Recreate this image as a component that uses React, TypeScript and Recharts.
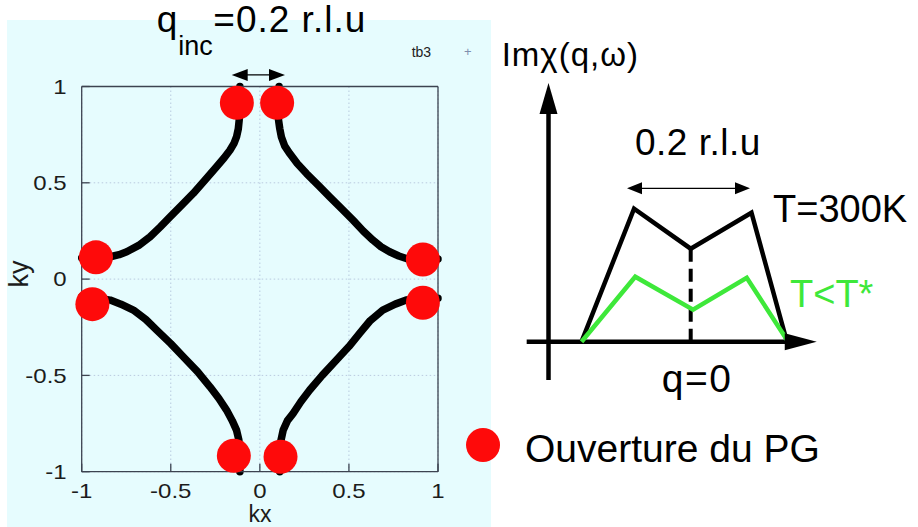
import React from 'react';
import {
  ComposedChart,
  Line,
  Scatter,
  XAxis,
  YAxis,
  CartesianGrid,
  ReferenceLine,
  ReferenceDot,
} from 'recharts';

const FONT = "'Liberation Sans', Arial, Helvetica, sans-serif";

// ---------- left panel: Fermi-surface map (kx, ky) ----------
const kTicks = [-1, -0.5, 0, 0.5, 1];

const arcTopLeft = [
  [-1.0, 0.11], [-0.9, 0.112], [-0.84, 0.116], [-0.79, 0.127], [-0.747, 0.142],
  [-0.68, 0.175], [-0.616, 0.22], [-0.56, 0.27], [-0.504, 0.323], [-0.44, 0.383],
  [-0.374, 0.445], [-0.31, 0.512], [-0.243, 0.583], [-0.2, 0.63], [-0.168, 0.669],
  [-0.145, 0.705], [-0.131, 0.738], [-0.121, 0.78], [-0.116, 0.825], [-0.113, 0.9],
  [-0.112, 1.0],
];
const arcTopRight = [
  [0.108, 1.0], [0.104, 0.9], [0.105, 0.825], [0.112, 0.78], [0.121, 0.738],
  [0.14, 0.69], [0.168, 0.652], [0.21, 0.6], [0.262, 0.548], [0.33, 0.485],
  [0.392, 0.427], [0.46, 0.365], [0.523, 0.306], [0.58, 0.25], [0.635, 0.202],
  [0.68, 0.168], [0.728, 0.142], [0.78, 0.12], [0.822, 0.107], [0.9, 0.104],
  [1.0, 0.104],
];
const arcBottomLeft = [
  [-1.0, -0.092], [-0.9, -0.1], [-0.84, -0.109], [-0.78, -0.13], [-0.71, -0.161],
  [-0.64, -0.21], [-0.579, -0.265], [-0.5, -0.335], [-0.43, -0.403], [-0.35, -0.48],
  [-0.28, -0.559], [-0.23, -0.62], [-0.187, -0.68], [-0.155, -0.735], [-0.131, -0.784],
  [-0.118, -0.835], [-0.113, -0.9], [-0.112, -1.0],
];
const arcBottomRight = [
  [0.112, -1.0], [0.112, -0.9], [0.115, -0.853], [0.131, -0.784], [0.155, -0.735],
  [0.187, -0.697], [0.23, -0.637], [0.28, -0.576], [0.35, -0.5], [0.43, -0.42],
  [0.5, -0.35], [0.56, -0.282], [0.62, -0.215], [0.69, -0.161], [0.76, -0.13],
  [0.822, -0.109], [0.9, -0.1], [1.0, -0.1],
];
const gapPoints = [
  [-0.129, 0.915], [0.097, 0.915], [-0.92, 0.113], [-0.94, -0.13],
  [0.915, 0.102], [0.915, -0.123], [-0.146, -0.917], [0.116, -0.922],
];
// q_inc arrow above the map
const qIncArrowKy = 1.06;
const qIncArrowFrom = -0.158;
const qIncArrowTo = 0.141;

// ---------- right panel: Im chi(q, w) sketch ----------
const qHot = [-0.185, -0.096, 0, 0.103, 0.163];
const chiHot = [0, 1.33, 0.93, 1.29, 0];
const qCold = [-0.185, -0.094, 0.004, 0.095, 0.163];
const chiCold = [0, 0.65, 0.32, 0.64, 0.02];
const widthArrowY = 1.534;
const widthArrowFrom = -0.108;
const widthArrowTo = 0.1005;
const axisQ = -0.241;
const legendDot = { q: -0.352, v: -1.033 };

const pts = (arr: number[][]) => arr.map(([kx, ky]) => ({ kx, ky }));
const hotData = qHot.map((q, i) => ({ q, v: chiHot[i] }));
const coldData = qCold.map((q, i) => ({ q, v: chiCold[i] }));

const RED = '#fe0a0a';
const GREEN = '#3ee83a';
const AX = '#3c4350';

const arrowHead =
  (dir: 'up' | 'right' | 'left', len: number, half: number) => (p: any) => {
    const { cx, cy } = p;
    let s = '';
    if (dir === 'up') s = `${cx},${cy} ${cx - half},${cy + len} ${cx + half},${cy + len}`;
    if (dir === 'right') s = `${cx},${cy} ${cx - len},${cy - half} ${cx - len},${cy + half}`;
    if (dir === 'left') s = `${cx},${cy} ${cx + len},${cy - half} ${cx + len},${cy + half}`;
    return <polygon points={s} fill="#000" />;
  };

const XTick = (p: any) => (
  <g transform={`translate(${p.x},${p.y})`}>
    <text
      transform="scale(1.2,1)"
      textAnchor="middle"
      dy="0.71em"
      fontSize={20}
      fill="#1c1c1c"
      fontFamily={FONT}
    >
      {String(p.payload.value)}
    </text>
  </g>
);
const YTick = (p: any) => (
  <g transform={`translate(${p.x},${p.y})`}>
    <text
      transform="scale(1.2,1)"
      textAnchor="end"
      dy="0.36em"
      fontSize={20}
      fill="#1c1c1c"
      fontFamily={FONT}
    >
      {String(p.payload.value)}
    </text>
  </g>
);

const dotShape = (p: any) => <circle cx={p.cx} cy={p.cy} r={17} fill={RED} />;

export default function App() {
  return (
    <div style={{ position: 'absolute', left: 0, top: 0, width: 918, height: 527, background: '#fff', overflow: 'hidden' }}>
      {/* left panel */}
      <div style={{ position: 'absolute', left: 7, top: 20, width: 484, height: 507, background: '#e6fcfe' }}>
        <ComposedChart width={484} height={507} margin={{ top: 65.5, right: 52, bottom: 54.3, left: 73.7 }}>
          <CartesianGrid stroke="#b9cadf" strokeDasharray="1.5 2.5" strokeWidth={1} />
          <XAxis
            xAxisId={0}
            type="number"
            dataKey="kx"
            domain={[-1, 1]}
            ticks={kTicks}
            height={1}
            tickSize={-8}
            tickMargin={20}
            tick={<XTick />}
            stroke={AX}
            strokeWidth={1.3}
          />
          <XAxis
            xAxisId="top"
            orientation="top"
            type="number"
            domain={[-1, 1]}
            ticks={kTicks}
            height={1}
            tickSize={-8}
            tick={false}
            stroke={AX}
            strokeWidth={1.3}
          />
          <YAxis
            yAxisId={0}
            type="number"
            dataKey="ky"
            domain={[-1, 1]}
            ticks={kTicks}
            width={1}
            tickSize={-8}
            tickMargin={23}
            tick={<YTick />}
            stroke={AX}
            strokeWidth={1.3}
          />
          <YAxis
            yAxisId="right"
            orientation="right"
            type="number"
            domain={[-1, 1]}
            ticks={kTicks}
            width={1}
            tickSize={-8}
            tick={false}
            stroke={AX}
            strokeWidth={1.3}
          />
          {[arcTopLeft, arcTopRight, arcBottomLeft, arcBottomRight].map((a, i) => (
            <Line
              key={i}
              data={pts(a)}
              dataKey="ky"
              type="linear"
              stroke="#000"
              strokeWidth={7.5}
              strokeLinejoin="round"
              strokeLinecap="round"
              dot={false}
              isAnimationActive={false}
            />
          ))}
          <Scatter data={pts(gapPoints)} dataKey="ky" fill={RED} shape={dotShape} isAnimationActive={false} />
          <ReferenceLine
            segment={[{ x: qIncArrowFrom + 0.05, y: qIncArrowKy }, { x: qIncArrowTo - 0.05, y: qIncArrowKy }]}
            stroke="#000"
            strokeWidth={1.3}
            ifOverflow="visible"
          />
          <ReferenceDot x={qIncArrowFrom} y={qIncArrowKy} ifOverflow="visible" shape={arrowHead('left', 16, 6)} />
          <ReferenceDot x={qIncArrowTo} y={qIncArrowKy} ifOverflow="visible" shape={arrowHead('right', 16, 6)} />
        </ComposedChart>
      </div>

      {/* right panel sketch */}
      <div style={{ position: 'absolute', left: 0, top: 0 }}>
        <ComposedChart width={918} height={527} margin={{ top: 41.7, right: 79.8, bottom: 135.3, left: 513.7 }}>
          <XAxis type="number" dataKey="q" domain={[-0.3, 0.25]} hide height={0} />
          <YAxis type="number" dataKey="v" domain={[-0.5, 3]} hide width={0} />
          <ReferenceLine segment={[{ x: axisQ, y: -0.383 }, { x: axisQ, y: 2.32 }]} stroke="#000" strokeWidth={4.5} />
          <ReferenceDot x={axisQ} y={2.587} shape={arrowHead('up', 31, 9)} />
          <ReferenceLine segment={[{ x: -0.278, y: 0 }, { x: 0.16, y: 0 }]} stroke="#000" strokeWidth={4.5} />
          <ReferenceDot x={0.2136} y={0} shape={arrowHead('right', 32, 8.5)} />
          <ReferenceLine segment={[{ x: 0, y: 0 }, { x: 0, y: 0.93 }]} stroke="#000" strokeWidth={4} strokeDasharray="13 7" />
          <Line data={hotData} dataKey="v" type="linear" stroke="#000" strokeWidth={4.5} dot={false} isAnimationActive={false} />
          <Line data={coldData} dataKey="v" type="linear" stroke={GREEN} strokeWidth={4.5} dot={false} isAnimationActive={false} />
          <ReferenceLine
            segment={[{ x: widthArrowFrom + 0.02, y: widthArrowY }, { x: widthArrowTo - 0.02, y: widthArrowY }]}
            stroke="#000"
            strokeWidth={1.2}
          />
          <ReferenceDot x={widthArrowFrom} y={widthArrowY} shape={arrowHead('left', 15, 6)} />
          <ReferenceDot x={widthArrowTo} y={widthArrowY} shape={arrowHead('right', 15, 6)} />
          <ReferenceDot x={legendDot.q} y={legendDot.v} r={17} fill={RED} stroke="none" ifOverflow="visible" />
        </ComposedChart>
      </div>

      {/* text annotations */}
      <svg width={918} height={527} style={{ position: 'absolute', left: 0, top: 0, pointerEvents: 'none' }} fontFamily={FONT}>
        <text x={156.7} y={32} fontSize={37} fill="#000">q</text>
        <text x={178.3} y={55} fontSize={27} fill="#000">inc</text>
        <text x={213.3} y={32} fontSize={37} letterSpacing={1} fill="#000">=0.2 r.l.u</text>
        <text x={411.7} y={56.7} fontSize={14} fill="#222">tb3</text>
        <text x={467.7} y={56} fontSize={13} textAnchor="middle" fill="#7f8fae">+</text>
        <text x={260} y={522} fontSize={23} textAnchor="middle" fill="#1c1c1c">kx</text>
        <text x={0} y={0} fontSize={27} textAnchor="middle" fill="#1c1c1c" transform="translate(28,274) rotate(-90)">ky</text>
        <text x={501.7} y={66} fontSize={33} letterSpacing={1} fill="#000">Imχ(q,ω)</text>
        <text x={635} y={155} fontSize={37} letterSpacing={0.5} fill="#000">0.2 r.l.u</text>
        <text x={773} y={221.7} fontSize={38} fill="#000">T=300K</text>
        <text x={790} y={306.7} fontSize={38} fill={GREEN}>T&lt;T*</text>
        <text x={661.7} y={392} fontSize={39} letterSpacing={1.5} fill="#000">q=0</text>
        <text x={525} y={462} fontSize={39} fill="#000">Ouverture du PG</text>
      </svg>
    </div>
  );
}
